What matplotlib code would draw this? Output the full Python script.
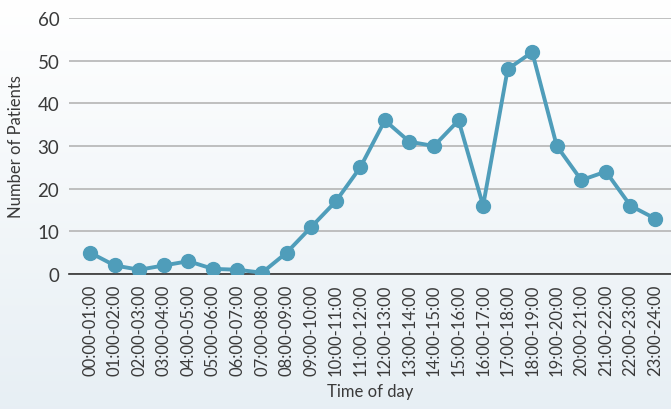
import numpy as np
import matplotlib.pyplot as plt

plt.rcParams['font.family'] = ['Lato', 'DejaVu Sans']

hours = [f"{h:02d}:00-{h + 1:02d}:00" for h in range(24)]
patients = [5, 2, 1, 2, 3, 1.2, 1, 0.3, 5, 11, 17, 25,
            36, 31, 30, 36, 16, 48, 52, 30, 22, 24, 16, 13]

fig = plt.figure(figsize=(6.71, 4.10), dpi=100)

# background gradient, white at top to pale blue at the bottom
bg = fig.add_axes([0, 0, 1, 1], zorder=-10)
grad = np.linspace(0, 1, 256).reshape(-1, 1)
top = np.array([1.0, 1.0, 1.0])
bot = np.array([0.906, 0.937, 0.957])
img = top + (bot - top) * grad[:, :, None]
bg.imshow(img, aspect='auto', extent=[0, 1, 0, 1])
bg.axis('off')

ax = fig.add_axes([69 / 671, 1 - 275 / 410, 1 - 69 / 671, 256 / 410])
ax.patch.set_alpha(0)
x = np.arange(len(hours))
ax.plot(x, patients, color='#4f9dba', lw=2.8, marker='o', ms=10, zorder=3)

ax.set_ylim(0, 60)
ax.set_xlim(-0.86, 23.65)
ax.set_yticks(range(0, 61, 10))
ax.set_xticks(x)
ax.set_xticklabels(hours, rotation=90)
ax.tick_params(axis='both', length=0, labelsize=12, colors='#3a3a3a')
ax.tick_params(axis='y', labelsize=13.5, pad=7)
ax.tick_params(axis='x', pad=7)
ax.grid(axis='y', color='#b5b5b5', lw=1.2)
ax.set_axisbelow(True)
for s in ['top', 'right', 'left']:
    ax.spines[s].set_visible(False)
ax.spines['bottom'].set_color('#333333')
ax.spines['bottom'].set_linewidth(1.2)

ax.set_ylabel('Number of Patients', fontsize=12, color='#3a3a3a', labelpad=10)
ax.set_xlabel('Time of day', fontsize=12, color='#3a3a3a', labelpad=6)

fig.savefig('out.png', dpi=100)
